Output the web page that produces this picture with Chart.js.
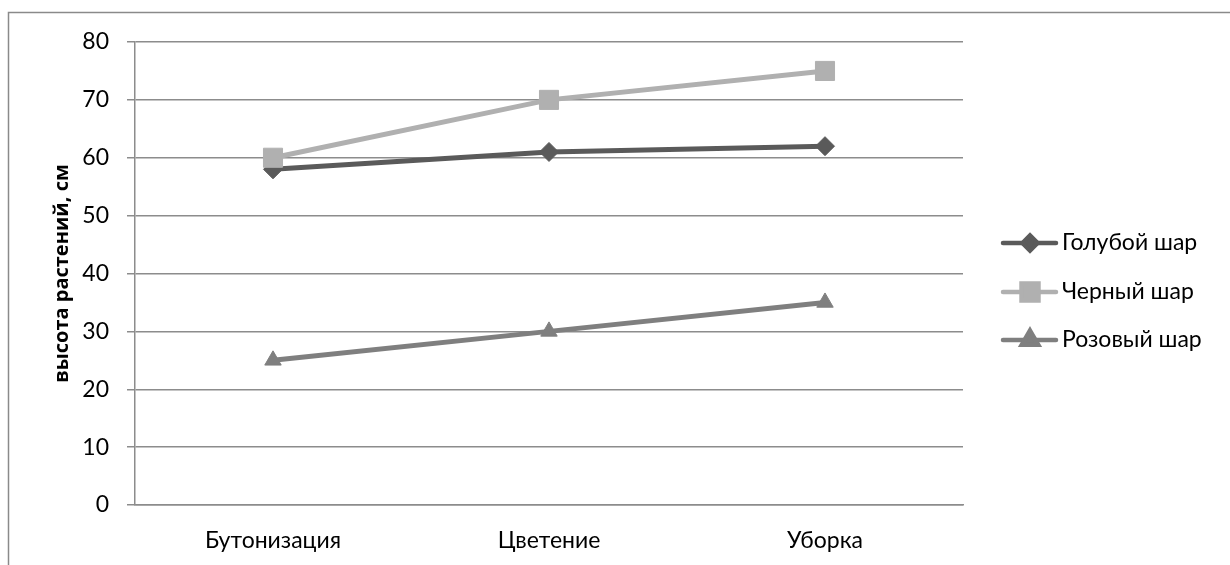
<!DOCTYPE html>
<html lang="ru">
<head>
<meta charset="utf-8">
<script src="https://cdn.jsdelivr.net/npm/chart.js@4/dist/chart.umd.min.js"></script>
<style>
  html, body { margin: 0; padding: 0; background: #fff; }
  #wrap { width: 1230px; height: 565px; }
</style>
</head>
<body>
<div id="wrap"><canvas id="chart" width="1230" height="565"></canvas></div>
<script>
const stages = ['Бутонизация', 'Цветение', 'Уборка'];
const blueBall = [58, 61, 62];
const blackBall = [60, 70, 75];
const pinkBall = [25, 30, 35];
const yTitle = 'высота растений, см';

const FONT = 'Lato, "Open Sans", sans-serif';
const TITLE_FONT = '"Open Sans", Lato, sans-serif';
const GRID = '#8c8c8c';

// outer frame around the chart
const framePlugin = {
  id: 'frame',
  beforeDraw(chart) {
    const c = chart.ctx;
    c.save();
    c.strokeStyle = '#8a8a8a';
    c.lineWidth = 1.5;
    c.strokeRect(8.5, 12.5, 1400, 800);
    c.restore();
  }
};

// legend on the right: line segment with the series marker, then the label
const legendPlugin = {
  id: 'sideLegend',
  afterDraw(chart) {
    const c = chart.ctx;
    const rows = [243, 292, 340];
    chart.data.datasets.forEach((ds, i) => {
      const y = rows[i];
      c.save();
      c.strokeStyle = ds.borderColor;
      c.lineWidth = 4.5;
      c.lineCap = 'round';
      c.beginPath();
      c.moveTo(1003, y);
      c.lineTo(1056, y);
      c.stroke();
      c.fillStyle = ds.backgroundColor;
      c.strokeStyle = ds.backgroundColor;
      Chart.helpers.drawPoint(c, {
        pointStyle: ds.pointStyle,
        radius: ds.legendRadius,
        borderWidth: 1,
        rotation: 0
      }, 1030, y);
      c.fillStyle = '#000';
      c.font = '23px ' + FONT;
      c.textBaseline = 'middle';
      c.fillText(ds.label, 1062, y);
      c.restore();
    });
  }
};

function series(label, data, color, style, radius, legendRadius, order) {
  return {
    label, data,
    borderColor: color,
    backgroundColor: color,
    pointBackgroundColor: color,
    pointBorderColor: color,
    borderWidth: 5,
    pointStyle: style,
    pointRadius: radius,
    pointHoverRadius: radius,
    pointBorderWidth: 1,
    legendRadius,
    tension: 0,
    order
  };
}

new Chart(document.getElementById('chart'), {
  type: 'line',
  data: {
    labels: stages,
    datasets: [
      series('Голубой шар', blueBall, '#5a5a5a', 'rectRot', 9.5, 7.5, 3),
      series('Черный шар', blackBall, '#b0b0b0', 'rect', 13.5, 12, 2),
      series('Розовый шар', pinkBall, '#7f7f7f', 'triangle', 9.5, 9.5, 1)
    ]
  },
  options: {
    responsive: false,
    animation: false,
    layout: { padding: { top: 42, right: 267, left: 0, bottom: 0 } },
    plugins: {
      legend: { display: false },
      tooltip: { enabled: false }
    },
    scales: {
      x: {
        offset: true,
        grid: { display: false, drawTicks: false },
        border: { display: true, color: GRID, width: 1.5 },
        ticks: { color: '#000', font: { family: FONT, size: 23 }, padding: 22 },
        afterFit(scale) { scale.height = 60; }
      },
      y: {
        min: 0,
        max: 80,
        ticks: { stepSize: 10, color: '#000', font: { family: FONT, size: 23 }, padding: 18 },
        grid: { color: GRID, lineWidth: 1.5, tickLength: 8 },
        border: { display: true, color: GRID, width: 1.5 },
        title: {
          display: true,
          text: yTitle,
          color: '#000',
          font: { family: TITLE_FONT, size: 20, weight: 'bold' },
          padding: { top: 50, bottom: 0 }
        },
        afterFit(scale) { scale.width = 135; }
      }
    }
  },
  plugins: [framePlugin, legendPlugin]
});
</script>
</body>
</html>
